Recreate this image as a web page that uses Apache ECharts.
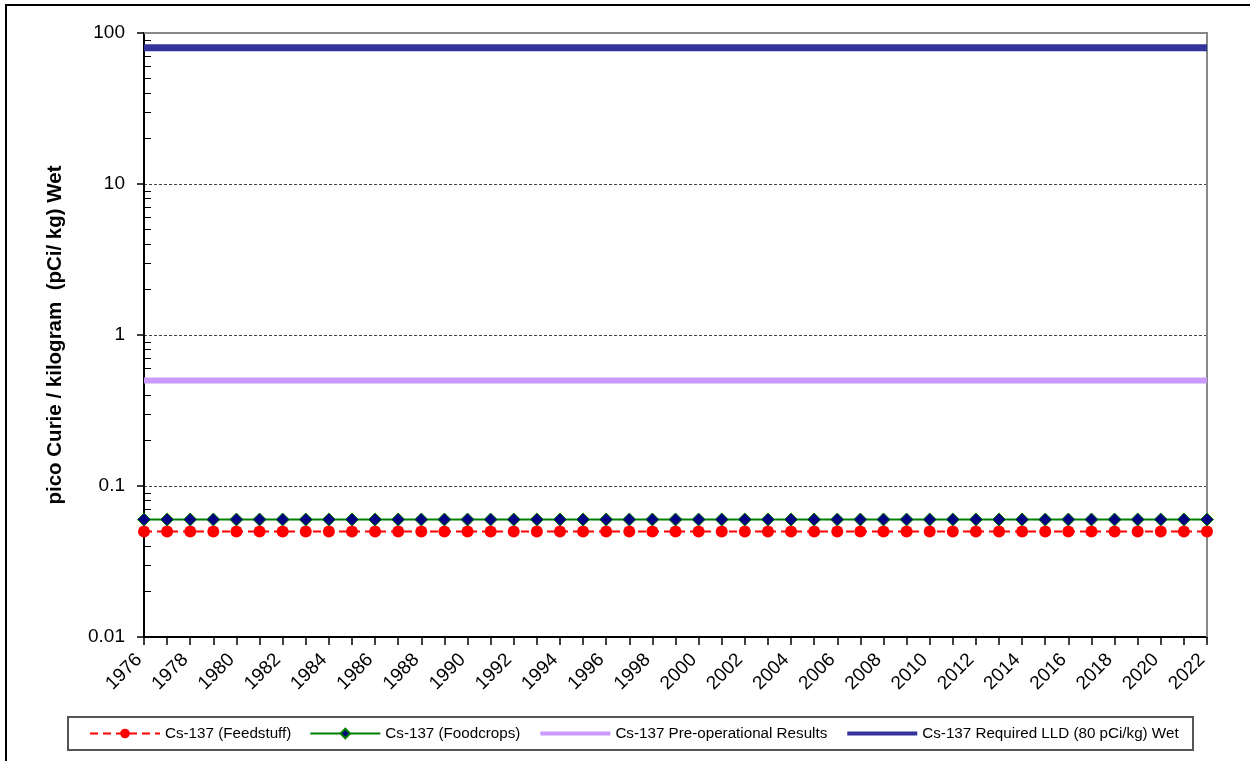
<!DOCTYPE html>
<html>
<head>
<meta charset="utf-8">
<script src="https://cdn.jsdelivr.net/npm/echarts@6/dist/echarts.min.js"></script>
<style>html,body{margin:0;padding:0;background:#fff}#c{width:1250px;height:761px}</style>
</head>
<body>
<div id="c"></div>
<script>
const years = [];
for (let y = 1976; y <= 2022; y++) years.push(String(y));
const feedstuff = years.map(() => 0.05);
const foodcrops = years.map(() => 0.06);
const preop = years.map(() => 0.5);
const lld = years.map(() => 80);
const seriesNames = ['Cs-137 (Feedstuff)', 'Cs-137 (Foodcrops)', 'Cs-137 Pre-operational Results', 'Cs-137 Required LLD (80 pCi/kg) Wet'];
const yAxisName = 'pico Curie / kilogram  (pCi/ kg) Wet';

const chart = echarts.init(document.getElementById('c'), null, {renderer: 'canvas'});
const font = 'Liberation Sans, Arial, sans-serif';
const logAxisBase = {type: 'log', min: 0.01, max: 100, logBase: 10};
chart.setOption({
  animation: false,
  textStyle: {fontFamily: font},
  grid: {left: 144, right: 43, top: 33, bottom: 124, containLabel: false},
  legend: {
    left: 84, top: 721, itemWidth: 70, itemHeight: 12, itemGap: 18,
    textStyle: {fontSize: 15.2, color: '#000', fontFamily: font},
    data: [
      {name: seriesNames[0]},
      {name: seriesNames[1]},
      {name: seriesNames[2], itemStyle: {opacity: 0}, lineStyle: {width: 4}},
      {name: seriesNames[3], itemStyle: {opacity: 0}, lineStyle: {width: 4}}
    ]
  },
  xAxis: {
    type: 'category', data: years, boundaryGap: false,
    axisLine: {lineStyle: {color: '#000', width: 2}},
    axisTick: {interval: 0, length: 8, lineStyle: {color: '#000', width: 1.5}},
    axisLabel: {interval: 1, rotate: 45, fontSize: 19, color: '#000', margin: 15, padding: [0, 7, 0, 0], fontFamily: font},
    splitLine: {show: false}
  },
  yAxis: [
    Object.assign({}, logAxisBase, {
      name: yAxisName, nameLocation: 'middle', nameGap: 78,
      nameTextStyle: {fontSize: 20.5, fontWeight: 'bold', color: '#000', fontFamily: font},
      axisLine: {show: true, lineStyle: {color: '#000', width: 2}},
      axisTick: {inside: true, length: 7, lineStyle: {color: '#000', width: 1.5}},
      minorTick: {show: true, splitNumber: 9, length: 7, lineStyle: {color: '#000', width: 1}},
      axisLabel: {fontSize: 19, color: '#000', margin: 19, fontFamily: font,
        formatter: v => String(Number(v.toPrecision(3)))},
      splitLine: {show: true, lineStyle: {color: '#444', type: [3, 2], width: 1}}
    }),
    Object.assign({}, logAxisBase, {
      position: 'left',
      axisLine: {show: false},
      axisTick: {show: true, inside: false, length: 7, lineStyle: {color: '#000', width: 1.5}},
      axisLabel: {show: false},
      splitLine: {show: false}
    })
  ],
  series: [
    {name: seriesNames[0], type: 'line', data: feedstuff, symbol: 'circle', symbolSize: 12,
     itemStyle: {color: '#ff0000'}, lineStyle: {color: '#ff0000', width: 2, type: [8, 5]}, z: 5},
    {name: seriesNames[1], type: 'line', data: foodcrops, symbol: 'diamond', symbolSize: 13,
     itemStyle: {color: '#000080', borderColor: '#008000', borderWidth: 1}, lineStyle: {color: '#008000', width: 2}, z: 6},
    {name: seriesNames[2], type: 'line', data: preop, symbol: 'none',
     itemStyle: {color: '#cc99ff'}, lineStyle: {color: '#cc99ff', width: 6}},
    {name: seriesNames[3], type: 'line', data: lld, symbol: 'none',
     itemStyle: {color: '#333399'}, lineStyle: {color: '#333399', width: 7}}
  ]
});
// outer frame, legend box, plot frame right & top (gray)
const p0 = chart.convertToPixel({gridIndex: 0}, [years.length - 1, 100]);
const pb = chart.convertToPixel({gridIndex: 0}, [0, 0.01]);
chart.setOption({graphic: [
  {type: 'rect', shape: {x: 6, y: 5, width: 1260, height: 780}, style: {fill: 'none', stroke: '#000', lineWidth: 2}, z: 0},
  {type: 'rect', shape: {x: 68, y: 717, width: 1125, height: 33}, style: {fill: 'none', stroke: '#555', lineWidth: 2}, z: 0},
  {type: 'polyline', shape: {points: [[pb[0], p0[1]], [p0[0], p0[1]], [p0[0], pb[1]]]}, style: {stroke: '#888', lineWidth: 2, fill: 'none'}, z: 1}
]});
</script>
</body>
</html>
